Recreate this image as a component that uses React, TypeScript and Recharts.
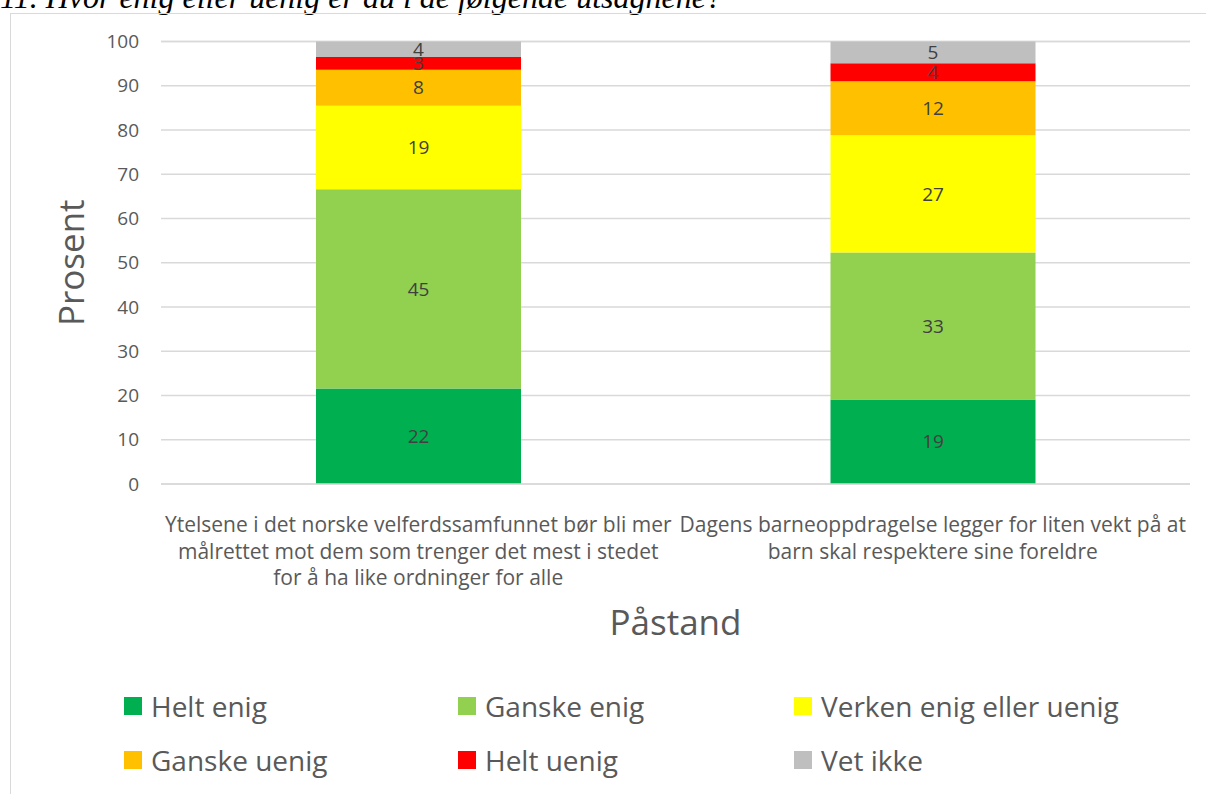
import React from "react";
import { BarChart, Bar, XAxis, YAxis, CartesianGrid, LabelList, Label } from "recharts";

const categories = [
  "Ytelsene i det norske velferdssamfunnet bør bli mer målrettet mot dem som trenger det mest i stedet for å ha like ordninger for alle",
  "Dagens barneoppdragelse legger for liten vekt på at barn skal respektere sine foreldre",
];
const categoryLines = [
  ["Ytelsene i det norske velferdssamfunnet bør bli mer", "målrettet mot dem som trenger det mest i stedet", "for å ha like ordninger for alle"],
  ["Dagens barneoppdragelse legger for liten vekt på at", "barn skal respektere sine foreldre"],
];
const seriesNames = ["Helt enig", "Ganske enig", "Verken enig eller uenig", "Ganske uenig", "Helt uenig", "Vet ikke"];
const seriesColors = ["#00b050", "#92d050", "#ffff00", "#ffc000", "#ff0000", "#bfbfbf"];
const heltEnig = [21.6, 19.1];
const ganskeEnig = [45.0, 33.2];
const verken = [18.9, 26.5];
const ganskeUenig = [8.1, 12.2];
const heltUenig = [2.9, 4.1];
const vetIkke = [3.5, 4.9];
const yTicks = [0, 10, 20, 30, 40, 50, 60, 70, 80, 90, 100];
const title = "11. Hvor enig eller uenig er du i de følgende utsagnene?";
const yTitle = "Prosent";
const xTitle = "Påstand";

const seriesValues = [heltEnig, ganskeEnig, verken, ganskeUenig, heltUenig, vetIkke];
const data = categories.map((c, i) => {
  const row: any = { name: c };
  seriesNames.forEach((s, j) => (row[s] = seriesValues[j][i]));
  return row;
});

const FONT = "'Open Sans', sans-serif";

const XTick = (props: any) => {
  const { x, y, payload } = props;
  const idx = categories.indexOf(payload.value);
  const lines = idx >= 0 ? categoryLines[idx] : [payload.value];
  return (
    <g>
      {lines.map((l, i) => (
        <text key={i} x={x} y={y + 40 + i * 26.5} textAnchor="middle" fill="#595959" fontSize={21} fontFamily={FONT}>
          {l}
        </text>
      ))}
    </g>
  );
};

export default function App() {
  return (
    <div style={{ position: "absolute", left: 0, top: 0, width: 1206, height: 794, background: "#fff", overflow: "hidden", fontFamily: FONT }}>
      <div
        style={{
          position: "absolute",
          left: 0,
          top: -21,
          fontFamily: "'Liberation Serif', serif",
          fontStyle: "italic",
          fontSize: 32,
          whiteSpace: "nowrap",
          color: "#000",
        }}
      >
        {title}
      </div>
      <div style={{ position: "absolute", left: 10, top: 13, width: 1210, height: 800, border: "1px solid #d9d9d9", boxSizing: "border-box" }} />
      <div style={{ position: "absolute", left: 0, top: 0 }}>
        <BarChart width={1206} height={794} data={data} margin={{ top: 41.5, right: 16, left: 0, bottom: 150 }} barSize={205}>
          <CartesianGrid vertical={false} stroke="#d9d9d9" strokeWidth={1.3} />
          <XAxis
            dataKey="name"
            height={160}
            tick={<XTick />}
            tickLine={false}
            axisLine={{ stroke: "#d9d9d9", strokeWidth: 1.3 }}
            interval={0}
          >
            <Label
              content={(p: any) => {
                const vb = p.viewBox;
                return (
                  <text x={vb.x + vb.width / 2} y={vb.y + 151} textAnchor="middle" fill="#595959" fontSize={35} fontFamily={FONT}>
                    {xTitle}
                  </text>
                );
              }}
            />
          </XAxis>
          <YAxis
            width={161}
            domain={[0, 100]}
            ticks={yTicks}
            tickLine={false}
            axisLine={false}
            tickMargin={16}
            tick={{ fill: "#595959", fontSize: 19, fontFamily: FONT }}
          >
            <Label
              content={(p: any) => {
                const vb = p.viewBox;
                const cx = vb.x + 70;
                const cy = vb.y + vb.height / 2;
                return (
                  <text
                    x={cx}
                    y={cy}
                    transform={`rotate(-90 ${cx} ${cy})`}
                    textAnchor="middle"
                    dominantBaseline="central"
                    fill="#595959"
                    fontSize={35}
                    fontFamily={FONT}
                  >
                    {yTitle}
                  </text>
                );
              }}
            />
          </YAxis>
          {seriesNames.map((s, j) => (
            <Bar key={s} dataKey={s} stackId="a" fill={seriesColors[j]} isAnimationActive={false}>
              <LabelList
                dataKey={s}
                position="center"
                fill="#404040"
                fontSize={19}
                fontFamily={FONT}
                formatter={(v: any) => Math.round(Number(v))}
              />
            </Bar>
          ))}
        </BarChart>
      </div>
      <div
        style={{
          position: "absolute",
          left: 124,
          top: 679,
          display: "grid",
          gridTemplateColumns: "334px 336px 380px",
          gridAutoRows: "54px",
        }}
      >
        {seriesNames.map((s, j) => (
          <div key={s} style={{ display: "flex", alignItems: "center", height: 54 }}>
            <span style={{ display: "inline-block", flexShrink: 0, width: 18, height: 18, background: seriesColors[j], marginRight: 9 }} />
            <span style={{ fontSize: 28, color: "#595959", fontFamily: FONT, whiteSpace: "nowrap" }}>{s}</span>
          </div>
        ))}
      </div>
    </div>
  );
}
